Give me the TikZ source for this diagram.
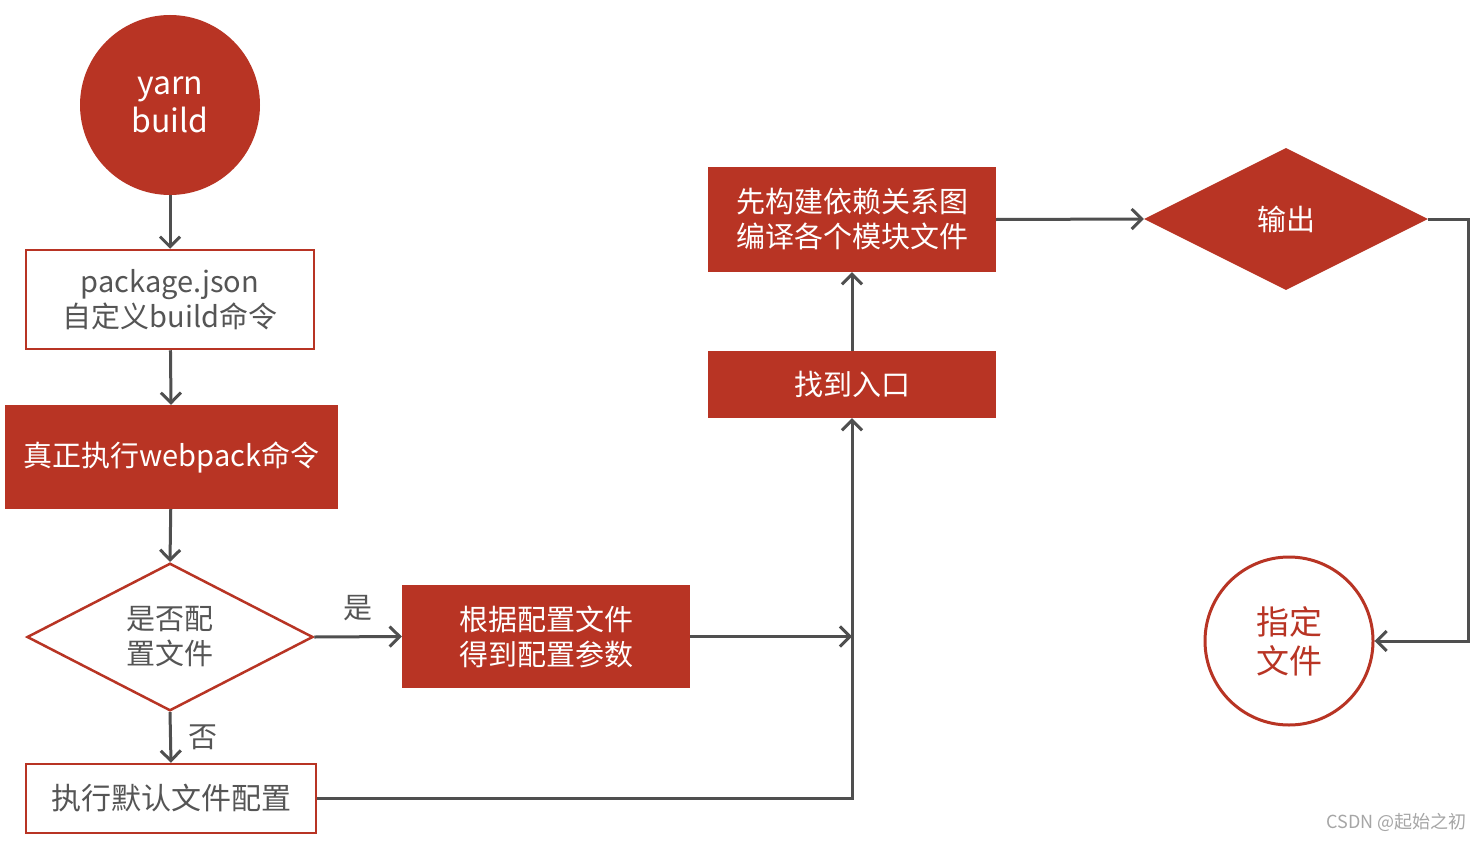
\documentclass[tikz,border=0pt]{standalone}
\usepackage{fontspec}
\setmainfont{Noto Sans CJK SC}
\usetikzlibrary{shapes.geometric,arrows.meta,calc}
\definecolor{rd}{HTML}{B83424}
\definecolor{gr}{HTML}{555555}
\definecolor{ln}{HTML}{4F4F4F}
\begin{document}
\begin{tikzpicture}[x=1pt,y=-1pt,
  redfill/.style={fill=rd,draw=none,text=white,inner sep=0pt,align=center,font=\fontsize{29}{35}\selectfont},
  redline/.style={fill=white,draw=rd,line width=2.5pt,text=gr,inner sep=0pt,align=center,font=\fontsize{29}{35}\selectfont},
  conn/.style={draw=ln,line width=3pt,-{Straight Barb[length=10pt,width=20pt,line width=3pt]}},
  lbl/.style={text=gr,font=\fontsize{29}{35}\selectfont,inner sep=0pt}]
\useasboundingbox (0,0) rectangle (1482,840);
\fill[white] (0,0) rectangle (1482,840);
% nodes
\node[redfill,circle,minimum size=180pt,font=\fontsize{32}{38}\selectfont] (start) at (170,105) {yarn\\build};
\node[redline,rectangle,minimum width=288pt,minimum height=99pt] (pkg) at (170,299.5) {package.json\\自定义build命令};
\node[redfill,rectangle,minimum width=333pt,minimum height=104pt] (wp) at (171.5,457) {真正执行webpack命令};
\node[redline,diamond,minimum width=286pt,minimum height=140pt] (dec) at (170,637) {是否配\\置文件};
\node[redline,rectangle,minimum width=290pt,minimum height=69pt,font=\fontsize{30}{36}\selectfont] (def) at (171,798.5) {执行默认文件配置};
\node[redfill,rectangle,minimum width=288pt,minimum height=103pt] (param) at (546,636.5) {根据配置文件\\得到配置参数};
\node[redfill,rectangle,minimum width=288pt,minimum height=67pt] (entry) at (852,384.5) {找到入口};
\node[redfill,rectangle,minimum width=288pt,minimum height=105pt] (graph) at (852,219.5) {先构建依赖关系图\\编译各个模块文件};
\node[redfill,diamond,minimum width=284pt,minimum height=142pt] (out) at (1286,219) {输出};
\node[redline,circle,minimum size=168pt,text=rd,font=\fontsize{33}{39}\selectfont,line width=3pt] (target) at (1289,641) {指定\\文件};
% connectors
\draw[conn] (start) -- (pkg);
\draw[conn] (pkg) -- (wp);
\draw[conn] (wp) -- (dec.north);
\draw[conn] (dec.east) -- node[lbl,above=14pt] (yes) {是} (param.west);
\draw[conn] (dec.south) -- node[lbl,right=16pt,pos=0.5] (no) {否} (def.north);
\draw[conn] (param.east) -- (param.east -| entry.south);
\draw[conn] (def.east) -- (def.east -| entry.south) -- (entry.south);
\draw[conn] (entry) -- (graph);
\draw[conn] (graph.east) -- (out.west);
\coordinate (rt) at (1468,219);
\draw[conn] (out.east) -- (rt) |- (target.east);
% watermark
\node[text=gray!70,font=\fontsize{18}{20}\selectfont,anchor=east,inner sep=0pt] (wm) at (1467,822) {CSDN @起始之初};
\end{tikzpicture}
\end{document}
